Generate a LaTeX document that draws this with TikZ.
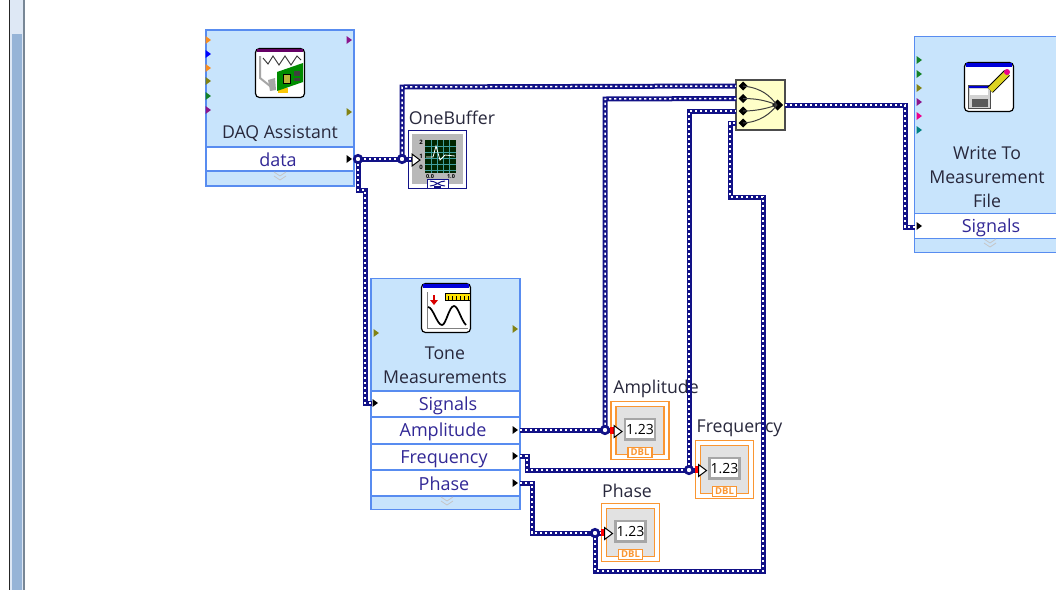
\documentclass[tikz,border=0pt]{standalone}
\usepackage{fontspec}
\setmainfont{Open Sans}
\definecolor{lvblue}{RGB}{200,228,252}
\definecolor{lvedge}{RGB}{88,140,240}
\definecolor{wirenavy}{RGB}{18,18,135}
\definecolor{lvorange}{RGB}{250,150,50}
\definecolor{lvtext}{RGB}{40,40,60}
\definecolor{rowtext}{RGB}{50,40,150}
\definecolor{dim}{RGB}{226,226,226}
\definecolor{mergefill}{RGB}{255,255,200}
\definecolor{barlo}{RGB}{150,180,215}
\definecolor{barhi}{RGB}{222,232,245}
\definecolor{baredge}{RGB}{120,135,150}
\definecolor{pport}{RGB}{140,20,140}
\definecolor{oport}{RGB}{130,130,20}
\definecolor{gport}{RGB}{20,130,40}
\definecolor{orport}{RGB}{250,140,30}
\tikzset{
 x=1pt,y=-1pt,
 every node/.style={inner sep=0pt,outer sep=0pt},
 wire/.style={draw=wirenavy,line width=5pt,line join=miter,
   postaction={draw=white,line width=1.5pt,dash pattern=on 2.4pt off 2.6pt}},
 junction/.style={circle,draw=wirenavy,line width=2.6pt,fill=white,minimum size=7.5pt},
 blockbody/.style={draw=lvedge,line width=1.4pt,fill=lvblue},
 portrow/.style={draw=lvedge,line width=1.2pt,fill=white},
 blocktext/.style={font=\fontsize{17.7}{24}\selectfont,text=lvtext,align=center},
 rowlabel/.style={font=\fontsize{18}{20}\selectfont,text=rowtext},
 caption/.style={font=\fontsize{17.7}{20}\selectfont,text=lvtext},
 iconframe/.style={draw=black,line width=1.2pt,fill=white,rounded corners=4pt},
 inpin/.style={draw=black,fill=white,line width=1pt},
}
\newcommand{\term}[3]{\fill[#3] (#1-2.5,#2-4) -- (#1+3,#2) -- (#1-2.5,#2+4) -- cycle;}
\newcommand{\chev}[2]{\draw[gray!45,line width=.8pt] (#1-6,#2-4) -- (#1,#2) -- (#1+6,#2-4) (#1-6,#2) -- (#1,#2+4) -- (#1+6,#2);}
\newcommand{\indicator}[3]{%
 \node[draw=lvorange,line width=1.2pt,minimum width=58pt,minimum height=58pt,fill=white] (#3) at (#1,#2) {};
 \draw[lvorange,line width=1.4pt,fill=dim] (#1-24,#2-24) rectangle (#1+24,#2+24);
 \draw[lvorange,line width=1.4pt,fill=white] (#1-12,#2+17) rectangle (#1+12,#2+27);
 \node[font=\bfseries\fontsize{9.5}{10}\selectfont,text=lvorange] at (#1,#2+22) {DBL};
 \draw[gray!70,line width=2.4pt,fill=white] (#1-15,#2-11.5) rectangle (#1+15,#2+9);
 \node[font=\fontsize{14}{15}\selectfont,text=black] at (#1,#2-1) {1.23};
}
\begin{document}
\begin{tikzpicture}
\useasboundingbox (0,0) rectangle (1056,590);
\fill[white] (0,0) rectangle (1056,590);
% scrollbar
\fill[barhi] (10,0) rectangle (24,34);
\fill[barlo] (10,34) rectangle (24,590);
\fill[barhi] (10,34) rectangle (12,590);
\fill[barhi] (21.5,34) rectangle (23,590);
\fill[black!85] (9,0) rectangle (10.4,590);
\fill[baredge] (23,0) rectangle (25,590);

% ---------- DAQ Assistant
\node[blockbody,minimum width=148pt,minimum height=156pt] (daq) at (280,108) {};
\node[portrow,minimum width=148pt,minimum height=24pt] (daqrow) at (280,159) {};
\node[blocktext] (daqt) at (280,133.5) {DAQ Assistant};
\node[rowlabel] (daqdata) at (278,160) {data};
\chev{280}{176}
\term{208}{40}{orport}\term{208}{54}{blue}\term{208}{68}{orport}\term{208}{81}{oport}\term{208}{96}{gport}\term{208}{110}{pport}
\term{349}{40}{pport}\term{349}{112}{oport}\term{349}{159}{black}
\node[iconframe,minimum width=49pt,minimum height=49pt] (daqicon) at (280,73) {};
\fill[violet!80!black] (257,49) rectangle (303,52);
\draw[black!80,line width=.9pt] (263,58) -- (268,64) -- (273,56) -- (279,65) -- (285,56) -- (291,65) -- (297,56) -- (301,60);
\draw[gray!70,line width=2pt] (260,56) -- (260,78) -- (270,86);
\fill[gray!70] (268,80) -- (275,78) -- (276,90) -- (270,91) -- cycle;
\fill[yellow!60!orange] (278,88) rectangle (288,93);
\fill[green!55!black] (277,72) -- (303,63) -- (303,82) -- (277,91) -- cycle;
\fill[yellow!70!black,draw=black,line width=.5pt] (283,74) rectangle (290,83);
\fill[black!75] (294,71) rectangle (300,76);
\fill[black!75] (294,78) rectangle (300,81);

% ---------- OneBuffer
\node[caption] (obt) at (452,117.5) {OneBuffer};
\node[draw=wirenavy,line width=1.2pt,fill=white,minimum width=58pt,minimum height=58pt] (ob) at (437.5,159.5) {};
\fill[gray!55] (412,134) rectangle (463,184);
\fill[black!85!green] (425,140) rectangle (456,173);
\foreach \i in {431,437,443,449}{\draw[teal!75,line width=.6pt] (\i,140) -- (\i,173);}
\foreach \i in {146,152,158,164,170}{\draw[teal!75,line width=.6pt] (425,\i) -- (456,\i);}
\draw[white,line width=.8pt] (426,157) -- (433,157) -- (436,146) -- (440,160) -- (445,155) -- (455,156);
\foreach \t/\yy in {2/142,1/156,0/167}{\node[font=\bfseries\fontsize{6}{6}\selectfont] at (421,\yy) {\t};}
\node[font=\bfseries\fontsize{5.5}{6}\selectfont] at (430,177) {0.0};
\node[font=\bfseries\fontsize{5.5}{6}\selectfont] at (451,177) {1.0};
\draw[wirenavy,fill=white,line width=1pt] (427,188) -- (427,179) -- (448,179) -- (448,188);
\draw[wirenavy,line width=1pt] (430,181) .. controls (436,181) and (439,186) .. (445,186)
  (430,186) .. controls (436,186) and (439,181) .. (445,181);
\fill[wirenavy] (434,186) rectangle (441,188.5);

% ---------- Tone Measurements
\node[blockbody,minimum width=149pt,minimum height=231pt] (tone) at (445.5,394) {};
\node[portrow,minimum width=149pt,minimum height=26pt] (rsig) at (445.5,404) {};
\node[portrow,minimum width=149pt,minimum height=27pt] (ramp) at (445.5,430.5) {};
\node[portrow,minimum width=149pt,minimum height=26pt] (rfrq) at (445.5,457) {};
\node[portrow,minimum width=149pt,minimum height=26pt] (rpha) at (445.5,483) {};
\node[blocktext] (tonet) at (445,365.5) {Tone\\Measurements};
\node[rowlabel] at (448,405.5) {Signals};
\node[rowlabel] at (443,432) {Amplitude};
\node[rowlabel] at (444,459) {Frequency};
\node[rowlabel] at (444,484) {Phase};
\chev{447}{501}
\term{376}{333}{oport}\term{515}{329}{oport}\term{375}{403}{black}\term{515}{430}{black}\term{515}{456}{black}\term{515}{483}{black}
\node[iconframe,minimum width=49pt,minimum height=49pt] (toneicon) at (446,308) {};
\fill[blue!85!black] (423,284) rectangle (469,288);
\fill[yellow!85!orange,draw=black,line width=.7pt] (445,293) rectangle (470,300);
\foreach \i in {448,452,456,460,464,468}{\draw[black,line width=.5pt] (\i,296) -- (\i,300);}
\draw[gray,line width=.7pt] (427,292) -- (427,328) -- (468,328);
\draw[black,line width=1.7pt] (428,307) .. controls (433,307) and (437,325) .. (442,325) .. controls (446,325) and (449,306) .. (454,306) .. controls (458,306) and (461,320) .. (466,325);
\fill[red!85!black] (432.8,295) rectangle (435.2,300);
\fill[red!85!black] (430,300) -- (438,300) -- (434,305) -- cycle;

% ---------- Indicators
\node[caption] (ampt) at (656,389) {Amplitude};
\node[caption] (frqt) at (739.5,428.5) {Frequency};
\node[caption] (phat) at (627,490.5) {Phase};
\indicator{640}{430.5}{iamp}
\indicator{724.5}{469.5}{ifrq}
\indicator{630.5}{532.5}{ipha}

% ---------- Merge
\node[draw=black!70,line width=1.5pt,fill=mergefill,minimum width=49pt,minimum height=50pt] (merge) at (760.5,105) {};
\foreach \i/\yy in {1/86,2/98.5,3/111,4/123}{
 \coordinate (min\i) at (736,\yy);
 \fill[black] (743,\yy-4.5) -- (747.5,\yy) -- (743,\yy+4.5) -- (738.5,\yy) -- cycle;
}
\fill[black] (777.5,99.5) -- (783,105) -- (777.5,110.5) -- (772,105) -- cycle;
\draw[black!75,line width=1pt] (743,86) .. controls (762,88) and (770,96) .. (777,105)
  (743,98.5) .. controls (755,98.5) and (765,100) .. (777,105)
  (743,111) .. controls (755,111) and (765,109) .. (777,105)
  (743,123) .. controls (760,122) and (770,114) .. (777,105);

% ---------- Write To Measurement File
\draw[lvedge,line width=1.4pt,fill=lvblue] (1058,36.5) -- (914.5,36.5) -- (914.5,252.5) -- (1058,252.5);
\node[portrow,minimum width=146pt,minimum height=25pt,anchor=west] (wrow) at (914.5,226) {};
\node[blocktext] (wt) at (987,177) {Write To\\Measurement\\File};
\node[rowlabel] at (991,227.5) {Signals};
\chev{990}{243}
\term{919}{60}{gport}\term{919}{74}{gport}\term{919}{88}{oport}\term{919}{102}{pport}\term{919}{116}{magenta}\term{919}{130}{teal}\term{919}{226}{black}
\node[iconframe,minimum width=49pt,minimum height=49pt] (wicon) at (989,87) {};
\fill[blue!85!black] (966,63) rectangle (1012,67);
\fill[gray!35,draw=black!70,line width=.7pt] (968,85) rectangle (990,108);
\fill[blue!80!black] (969,86) rectangle (989,88);
\fill[white] (970,89) rectangle (988,95);
\fill[black!65] (972,99) rectangle (988,107);
\draw[black,line width=8pt] (990,90) -- (1007,73);
\draw[yellow!85!black,line width=6pt] (990,90) -- (1007,73);
\fill[magenta] (1007,72) circle (3pt);

% ---------- Wires
\coordinate (daqout) at (354,159);
\coordinate (jd) at (358,159);
\coordinate (jb) at (402,159);
\coordinate (obin) at (412,160);
\coordinate (sg1) at (358,190);
\coordinate (sg2) at (365,190);
\coordinate (sg3) at (365,403);
\coordinate (sgin) at (372,403);
\coordinate (tb) at (402,87);
\coordinate (ampo) at (520,430);
\coordinate (ja) at (605,430);
\coordinate (amb) at (605,99);
\coordinate (fo) at (520,456);
\coordinate (f1) at (527,456);
\coordinate (f2) at (527,470);
\coordinate (jf) at (689,470);
\coordinate (fb) at (689,111);
\coordinate (po) at (520,483);
\coordinate (p1) at (532,483);
\coordinate (p2) at (532,533);
\coordinate (jp) at (595,533);
\coordinate (pa) at (595,571);
\coordinate (pb) at (763,571);
\coordinate (pc) at (763,197);
\coordinate (pd) at (730,197);
\coordinate (pe) at (730,123);
\coordinate (mout) at (785,105);
\coordinate (w1) at (905,105);
\coordinate (w2) at (905,227);
\coordinate (wsig) at (915,227);
\draw[wire] (daqout) -- (jb) -- (obin |- jb);
\draw[wire] (jb) -- (tb) -- (min1);
\draw[wire] (jd) -- (sg1) -- (sg2) -- (sg3) -- (sgin);
\draw[wire] (ampo) -- (ja) -- (ja -| iamp.west);
\draw[wire] (ja) -- (amb) -- (min2);
\draw[wire] (fo) -- (f1) -- (f2) -- (jf) -- (jf -| ifrq.west);
\draw[wire] (jf) -- (fb) -- (min3);
\draw[wire] (po) -- (p1) -- (p2) -- (jp) -- (jp -| ipha.west);
\draw[wire] (jp) -- (pa) -- (pb) -- (pc) -- (pd) -- (pe) -- (min4);
\draw[wire] (mout) -- (w1) -- (w2) -- (wsig);
\node[junction] (jd1) at (jd) {};
\node[junction] (jb1) at (jb) {};
\node[junction] (ja1) at (ja) {};
\node[junction] (jf1) at (jf) {};
\node[junction] (jp1) at (jp) {};
\fill[red] (610,427) rectangle (616,434);
\fill[red] (695,466) rectangle (700.5,473);
\fill[red] (601,529) rectangle (606.5,536);
\draw[inpin] (412,154) -- (420,160) -- (412,166) -- cycle;
\draw[inpin] (614,425.5) -- (622,431.5) -- (614,437.5) -- cycle;
\draw[inpin] (698.5,464.5) -- (706.5,470.5) -- (698.5,476.5) -- cycle;
\draw[inpin] (604.5,527.5) -- (612.5,533.5) -- (604.5,539.5) -- cycle;
\end{tikzpicture}
\end{document}
